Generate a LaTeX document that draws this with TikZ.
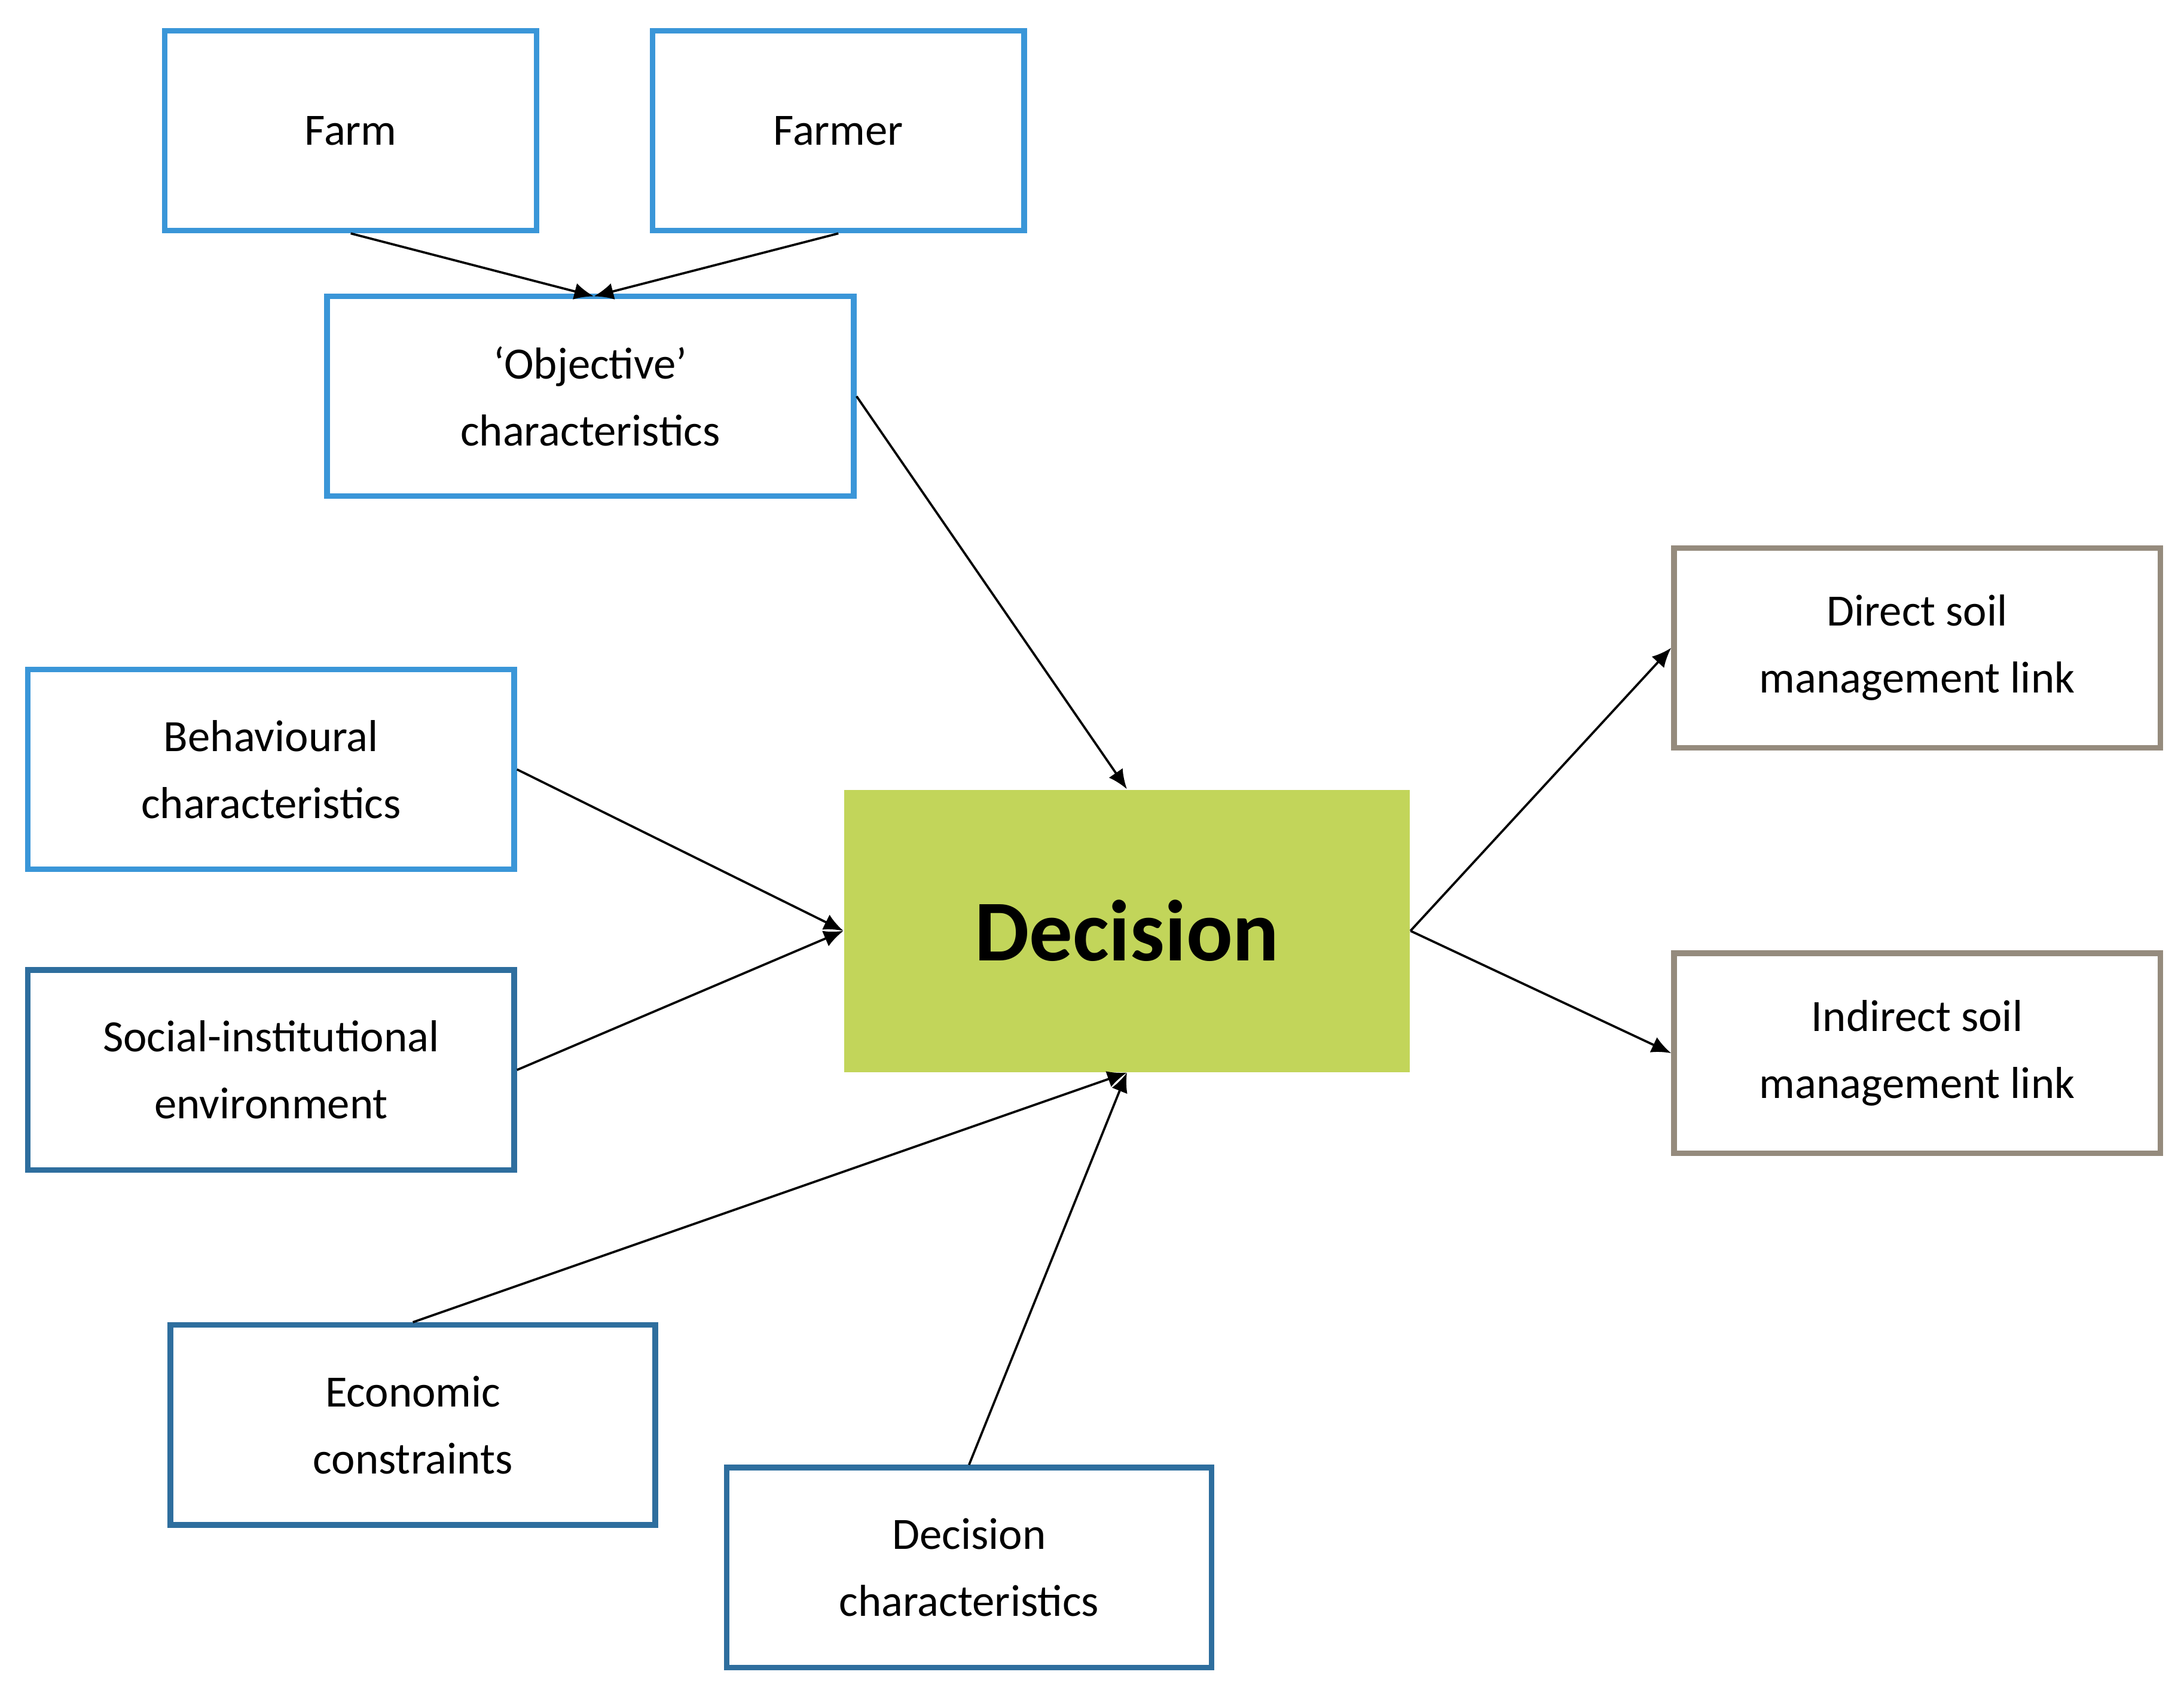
\documentclass[tikz,border=0pt]{standalone}
\usepackage{fontspec}
\setmainfont{Carlito}
\usetikzlibrary{arrows.meta}
\definecolor{lb}{HTML}{3A96D8}
\definecolor{db}{HTML}{2E6E9E}
\definecolor{gr}{HTML}{958B7D}
\definecolor{gn}{HTML}{C2D55A}
\begin{document}
\begin{tikzpicture}[x=0.5pt,y=-0.5pt,
 box/.style={draw=#1,line width=2pt,fill=white,align=center,font=\fontsize{16}{24}\selectfont,inner sep=0pt},
 arr/.style={-{Latex[length=7pt,width=6pt]},line width=0.8pt}]
\useasboundingbox (0,0) rectangle (1563,1207);
\newcommand{\bx}[7]{\node[box=#2,minimum width=#5*0.5pt-#3*0.5pt,minimum height=#7*0.5pt-#4*0.5pt] (#1) at ({(#3+#5)/2},{(#4+#7)/2}) {#6};}
\bx{farm}{lb}{118}{22}{384}{Farm}{165}
\bx{farmer}{lb}{467}{22}{733}{Farmer}{165}
\bx{obj}{lb}{234}{212}{611}{‘Objective’\\characteristics}{355}
\bx{beh}{lb}{20}{479}{368}{Behavioural\\characteristics}{622}
\bx{soc}{db}{20}{694}{368}{Social-institutional\\environment}{837}
\bx{eco}{db}{122}{948}{469}{Economic\\constraints}{1091}
\bx{dch}{db}{520}{1050}{867}{Decision\\characteristics}{1193}
\bx{dir}{gr}{1198}{392}{1546}{Direct soil\\management link}{535}
\bx{ind}{gr}{1198}{682}{1546}{Indirect soil\\management link}{825}
\node[fill=gn,minimum width=202.5pt,minimum height=101pt,inner sep=0pt,font=\fontsize{31}{36}\selectfont\bfseries] (dec) at (806.5,666) {Decision};
\coordinate (m) at (425,212);
\draw[arr] (farm.south) -- (m);
\draw[arr] (farmer.south) -- (m);
\draw[arr] (obj.east) -- (dec.north);
\draw[arr] (beh.east) -- (dec.west);
\draw[arr] (soc.east) -- (dec.west);
\draw[arr] (eco.north) -- (dec.south);
\draw[arr] (dch.north) -- (dec.south);
\draw[arr] (dec.east) -- (dir.west);
\draw[arr] (dec.east) -- (ind.west);
\end{tikzpicture}
\end{document}
